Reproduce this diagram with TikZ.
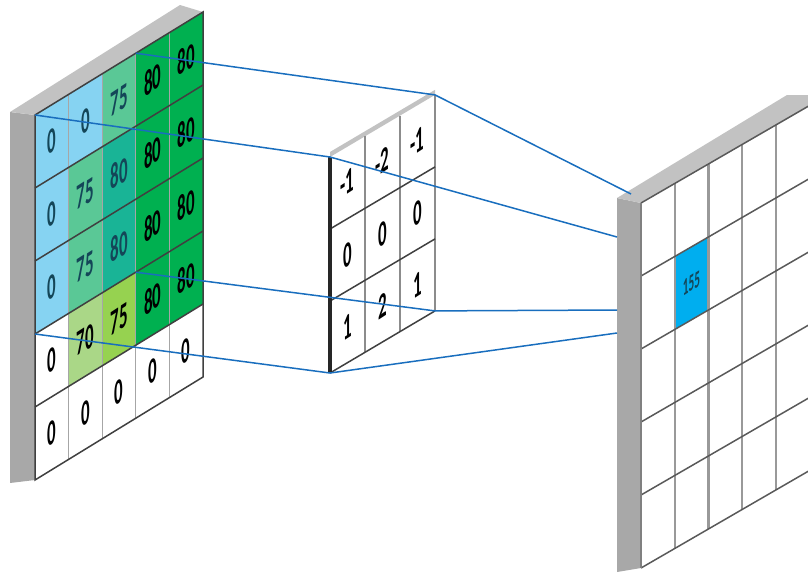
\documentclass[tikz,border=0pt]{standalone}
\usepackage{fontspec}
\setmainfont{Carlito}
\usetikzlibrary{calc}

\definecolor{lblue}{HTML}{86D3F2}
\definecolor{celltg}{HTML}{5AC896}
\definecolor{cellteal}{HTML}{19B496}
\definecolor{cellgreen}{HTML}{00B050}
\definecolor{cellpale}{HTML}{AAD787}
\definecolor{cellyellow}{HTML}{96D250}
\definecolor{cellblue}{HTML}{00AEEF}
\definecolor{regiontext}{HTML}{144658}
\definecolor{linkblue}{HTML}{196EBE}
\definecolor{sidegray}{HTML}{A8A8A8}
\definecolor{topgray}{HTML}{C2C2C2}

\tikzset{
  gridrow/.style={draw=black!75, line width=0.75pt},
  gridcol/.style={draw=black!35, line width=0.6pt},
  outcol/.style={draw=black!40, line width=1.1pt},
  digit/.style={font=\fontsize{18}{18}\selectfont\bfseries, yslant=0.65, xscale=0.47, inner sep=0pt},
  smalldigit/.style={digit, font=\fontsize{12}{12}\selectfont\bfseries},
  link/.style={draw=linkblue, line width=0.75pt},
  boardside/.style={fill=sidegray},
  boardtop/.style={fill=topgray},
  kedge/.style={draw=black!85, line width=2.3pt},
}

\begin{document}
\begin{tikzpicture}[x=0.5pt, y=-0.5pt]
\useasboundingbox (0,0) rectangle (808,574);
\clip (0,0) rectangle (808,574);

% input board
\fill[boardside] (10,112) -- (35,115) -- (35,480) -- (10,483) -- cycle;
\fill[boardtop] (10,112) -- (180,5) -- (203,12) -- (35,115) -- cycle;
\begin{scope}[shift={(35,115)}, x={(16.8pt,10.3pt)}, y={(0pt,-36.5pt)}]
  \foreach \rx/\cells in {
    0/{lblue/regiontext/0, lblue/regiontext/0, celltg/regiontext/75, cellgreen/black/80, cellgreen/black/80},
    1/{lblue/regiontext/0, celltg/regiontext/75, cellteal/regiontext/80, cellgreen/black/80, cellgreen/black/80},
    2/{lblue/regiontext/0, celltg/regiontext/75, cellteal/regiontext/80, cellgreen/black/80, cellgreen/black/80},
    3/{white/black/0, cellpale/black/70, cellyellow/black/75, cellgreen/black/80, cellgreen/black/80},
    4/{white/black/0, white/black/0, white/black/0, white/black/0, white/black/0}}
    \foreach \f/\t/\v [count=\cx from 0] in \cells {
      \fill[\f] (\cx,\rx) -- ++(1,0) -- ++(0,1) -- ++(-1,0) -- cycle;
      \node[digit, text=\t] (in-\rx-\cx) at (\cx+0.5,\rx+0.5) {\v};
    }
  \foreach \cx in {1,...,4} \draw[gridcol] (\cx,0) -- (\cx,5);
  \foreach \rx in {1,...,4} \draw[gridrow] (0,\rx) -- (5,\rx);
  \draw[gridrow] (0,0) -- (5,0) -- (5,5) -- (0,5) -- cycle;
  \coordinate (in-a) at (3,0);
  \coordinate (in-b) at (0,0);
  \coordinate (in-c) at (3,3);
  \coordinate (in-d) at (0,3);
\end{scope}

% kernel
\begin{scope}[shift={(330,157)}, x={(17.5pt,10.35pt)}, y={(0pt,-36pt)}]
  \fill[boardtop] (0,0) -- (3,0) -- (3,-0.07) -- (0,-0.07) -- cycle;
  \foreach \rx/\cells in {0/{-1,-2,-1}, 1/{0,0,0}, 2/{1,2,1}}
    \foreach \v [count=\cx from 0] in \cells
      \node[digit] (k-\rx-\cx) at (\cx+0.5,\rx+0.5) {\v};
  \foreach \cx in {1,2,3} \draw[gridcol, draw=black!45] (\cx,0) -- (\cx,3);
  \foreach \rx in {1,2,3} \draw[gridrow] (0,\rx) -- (3,\rx);
  \coordinate (k-a) at (3,0);
  \coordinate (k-b) at (0,0);
  \coordinate (k-c) at (3,3);
  \coordinate (k-d) at (0,3);
\end{scope}
\draw[kedge] (k-b) -- (k-d);

% output board
\fill[boardside] (617,198) -- (641,203) -- (641,568) -- (617,572) -- cycle;
\fill[boardtop] (617,198) -- (787,95) -- (808,95) -- (808,107) -- (641,203) -- cycle;
\begin{scope}[shift={(641,203)}, x={(16.85pt,9.75pt)}, y={(0pt,-36.5pt)}]
  \fill[cellblue] (1,1) -- (2,1) -- (2,2) -- (1,2) -- cycle;
  \node[smalldigit, text=regiontext] (out-1-1) at (1.5,1.5) {155};
  \foreach \cx in {1,...,4} \draw[outcol] (\cx,0) -- (\cx,5);
  \foreach \rx in {1,...,4} \draw[gridrow, draw=black!65] (0,\rx) -- (5,\rx);
  \draw[gridrow, draw=black!65] (0,0) -- (5,0) (0,5) -- (5,5);
  \draw[gridrow, draw=black!50] (0,0) -- (0,5);
\end{scope}

% links
\coordinate (out-a) at (631,194);
\coordinate (out-b) at (617,237);
\coordinate (out-c) at (617,310);
\coordinate (out-d) at (617,333);
\draw[link] (in-a) -- (k-a) -- (out-a);
\draw[link] (in-b) -- (k-b) -- (out-b);
\draw[link] (in-c) -- (k-c) -- (out-c);
\draw[link] (in-d) -- (k-d) -- (out-d);
\end{tikzpicture}
\end{document}
